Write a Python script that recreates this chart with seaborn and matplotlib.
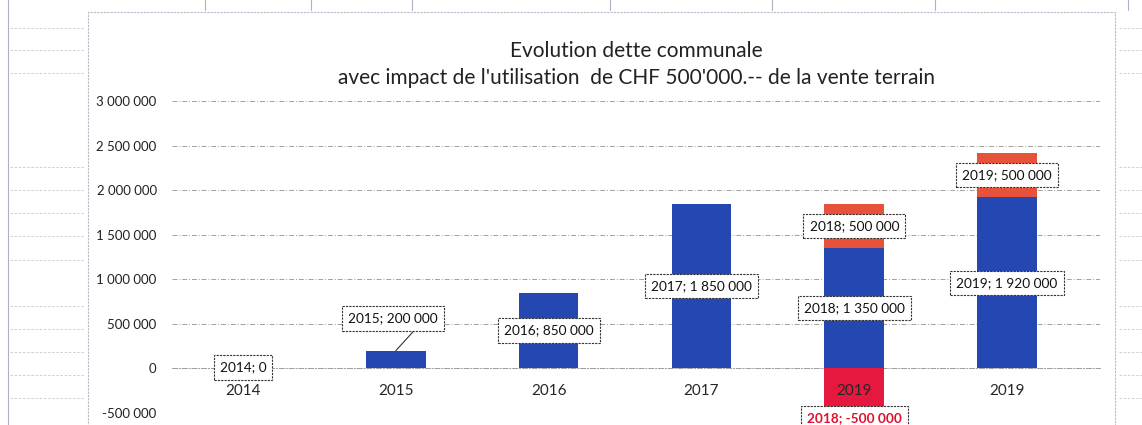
import matplotlib
matplotlib.use("Agg")
import matplotlib.pyplot as plt
import seaborn as sns
import numpy as np
import pandas as pd
from matplotlib.patches import Rectangle
from matplotlib.lines import Line2D

# ---- data ----
years = ["2014", "2015", "2016", "2017", "2018", "2019"]
tick_labels = ["2014", "2015", "2016", "2017", "2019", "2019"]
dette = [0, 200000, 850000, 1850000, 1350000, 1920000]
vente_plus = [0, 0, 0, 0, 500000, 500000]
vente_moins = [0, 0, 0, 0, -500000, 0]
title = "Evolution dette communale\navec impact de l'utilisation  de CHF 500'000.-- de la vente terrain"

BLUE = "#2547B2"
ORANGE = "#E9523A"
RED = "#E6183F"

sns.set_theme(style="white")
plt.rcParams["font.family"] = ["Lato", "DejaVu Sans"]

fig = plt.figure(figsize=(11.42, 4.25), dpi=100)
ax = fig.add_axes([172 / 1142, 1 - 413 / 425, (1100 - 172) / 1142, (413 - 101) / 425])

df = pd.DataFrame({"year": years, "dette": dette,
                   "plus": vente_plus, "moins": vente_moins})
df["total"] = df["dette"] + df["plus"]

# stacked bars: total (orange) first, then blue on top, negative red separately
sns.barplot(data=df, x="year", y="total", order=years, color=ORANGE,
            saturation=1, width=0.39, linewidth=0, ax=ax, zorder=2)
sns.barplot(data=df, x="year", y="dette", order=years, color=BLUE,
            saturation=1, width=0.39, linewidth=0, ax=ax, zorder=3)
sns.barplot(data=df, x="year", y="moins", order=years, color=RED,
            saturation=1, width=0.39, linewidth=0, ax=ax, zorder=3)

ax.set_ylim(-500000, 3000000)
ax.set_xlim(-0.465, 5.608)
yt = np.arange(-500000, 3000001, 500000)
ax.set_yticks(yt)
ax.set_yticklabels([f"{int(v):,}".replace(",", " ") for v in yt],
                   fontsize=9.5, color="#222222")
ax.set_xticks(range(len(years)))
ax.set_xticklabels(tick_labels, fontsize=9.5, color="#222222")
ax.tick_params(axis="both", length=0)
ax.tick_params(axis="x", pad=11)
ax.tick_params(axis="y", pad=11)
ax.get_xticklabels()[4].set_color("#8A1A2A")

ax.set_xlabel("")
ax.set_ylabel("")
ax.grid(axis="y", color="#a0a0a0", linestyle=(0, (5, 2, 1, 2)), linewidth=0.7)
ax.set_axisbelow(True)
ax.xaxis.set_zorder(4)
for s in ["top", "right", "left"]:
    ax.spines[s].set_visible(False)
ax.spines["bottom"].set_position(("data", 0))
ax.spines["bottom"].set_color("#a0a0a0")
ax.spines["bottom"].set_linestyle((0, (5, 2, 1, 2)))
ax.spines["bottom"].set_linewidth(0.7)
ax.spines["bottom"].set_zorder(0.5)

ax.set_title(title, fontsize=15, color="#222222", pad=12, linespacing=1.45)

box = dict(boxstyle="square,pad=0.45", fc="white", ec="#333333", lw=0.8, ls=(0, (2, 1)))
kw = dict(ha="center", va="center", fontsize=9.8, color="#111111", bbox=box, zorder=5)

for i, y in enumerate(years):
    d = dette[i]
    if i == 0:
        ax.text(i, 10000, f"{y}; {d}", **kw)
    elif i == 1:
        ax.annotate(f"{y}; {d:,}".replace(",", " "), xy=(i, d), xytext=(i - 0.02, 560000),
                    arrowprops=dict(arrowstyle="-", color="#333333", lw=0.8,
                                    connectionstyle="arc3,rad=0", shrinkA=0, shrinkB=0,
                                    relpos=(0.8, 0)),
                    **kw)
    else:
        ax.text(i, d / 2, f"{y}; {d:,}".replace(",", " "), **kw)
    p = vente_plus[i]
    if p:
        ax.text(i, d + p / 2, f"{y}; {p:,}".replace(",", " "), **kw)
    m = vente_moins[i]
    if m:
        kwr = dict(kw)
        kwr["color"] = "#E0102E"
        kwr["fontweight"] = "bold"
        ax.text(i, m - 55000, f"{y}; {m:,}".replace(",", " "), **kwr)

# chart frame and faint spreadsheet grid
fig.patches.append(Rectangle((88 / 1142, -0.01), (1115 - 88) / 1142, (425 - 12) / 425 + 0.01,
                             transform=fig.transFigure, fill=False, ec="#b8b8c8",
                             lw=0.8, ls=(0, (2, 1)), zorder=0))
for yy in [28, 50, 73, 167, 190, 213, 236, 260, 306, 329, 352, 375, 398]:
    fig.lines.append(Line2D([10 / 1142, 84 / 1142], [1 - yy / 425] * 2, transform=fig.transFigure,
                            color="#c8c8d0", lw=0.6, ls=(0, (3, 2))))
    fig.lines.append(Line2D([1119 / 1142, 1.0], [1 - yy / 425] * 2, transform=fig.transFigure,
                            color="#c8c8d0", lw=0.6, ls=(0, (3, 2))))
fig.lines.append(Line2D([8 / 1142] * 2, [0, 1], transform=fig.transFigure, color="#b0b0c0", lw=0.8))
for xx in [205, 311, 412, 610, 772, 935, 1128]:
    fig.lines.append(Line2D([xx / 1142] * 2, [1 - 10 / 425, 1], transform=fig.transFigure,
                            color="#b0b0c0", lw=0.8))

fig.savefig("out.png", dpi=100, facecolor="white")
